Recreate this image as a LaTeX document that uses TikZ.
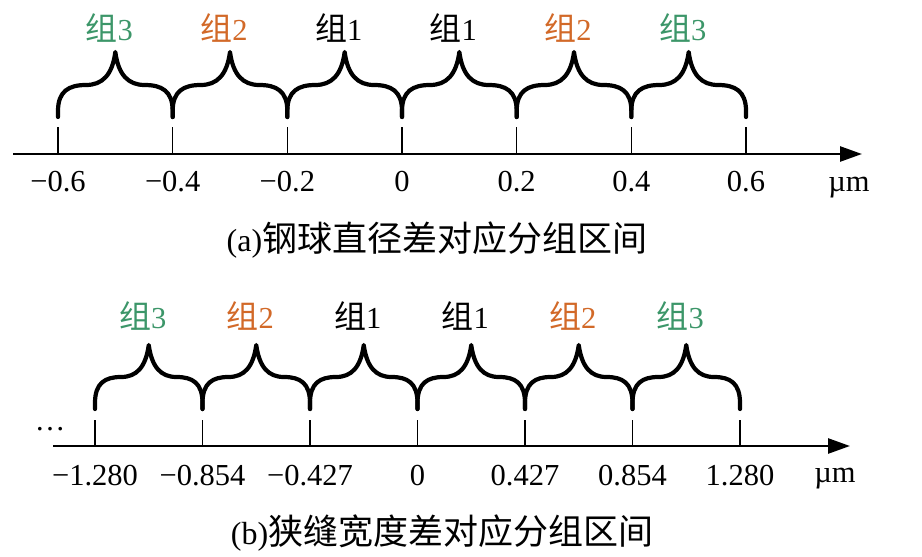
\documentclass[tikz,border=0pt]{standalone}
\usepackage{fontspec}
\setmainfont{Liberation Serif}
\newfontfamily\cjk{Noto Sans CJK SC}
\usetikzlibrary{arrows.meta}
\definecolor{gthree}{RGB}{60,150,105}
\definecolor{gtwo}{RGB}{210,105,40}
\begin{document}
\begin{tikzpicture}[x=1pt,y=-1pt,
  axisline/.style={line width=2.6pt,-{Triangle[length=22pt,width=15pt]}},
  tickline/.style={line width=1.3pt},
  bracepath/.style={line width=4.2pt,line cap=round,line join=round},
  lab/.style={font=\fontsize{30.5}{33}\selectfont, anchor=base, inner sep=0pt},
  capt/.style={font=\fontsize{32}{36}\selectfont, anchor=base, inner sep=0pt}]
\useasboundingbox (0,0) rectangle (922,557);

% ---------------- panel (a) ----------------
\coordinate (axa0) at (13,154);
\coordinate (axa1) at (862,154);
\draw[axisline] (axa0) -- (axa1);
\foreach \i/\t in {0/−0.6,1/−0.4,2/−0.2,3/0,4/0.2,5/0.4,6/0.6}{
  \pgfmathsetmacro\xx{58+114.67*\i}
  \coordinate (tat\i) at (\xx,127);
  \coordinate (tab\i) at (\xx,154);
  \draw[tickline] (tat\i) -- (tab\i);
  \node[lab] (tla\i) at (\xx,191) {\t};
}
\node[lab] (unita) at (849,191) {µm};
\foreach \i in {0,...,5}{
  \pgfmathsetmacro\xa{58+114.67*\i}
  \pgfmathsetmacro\xb{\xa+114.67}
  \pgfmathsetmacro\xm{\xa+57.33}
  \draw[bracepath] (\xa,117) -- (\xa,111) .. controls (\xa,91) and (\xa+11,85) .. (\xa+28,85)
    .. controls (\xm-13,85) and (\xm-3,75) .. (\xm,52)
    .. controls (\xm+3,75) and (\xm+13,85) .. (\xb-28,85)
    .. controls (\xb-11,85) and (\xb,91) .. (\xb,111) -- (\xb,117);
}
\foreach \i/\c/\n in {0/gthree/3,1/gtwo/2,2/black/1,3/black/1,4/gtwo/2,5/gthree/3}{
  \pgfmathsetmacro\xm{58+114.67*\i+57.33-6}
  \node[lab,text=\c] (ga\i) at (\xm,40) {{\cjk\fontsize{32}{34}\selectfont 组}\n};
}
\node[capt] (capa) at (437,251) {(a){\cjk\fontsize{35}{38}\selectfont 钢球直径差对应分组区间}};

% ---------------- panel (b) ----------------
\coordinate (axb0) at (53,446);
\coordinate (axb1) at (850,446);
\draw[axisline] (axb0) -- (axb1);
\node[lab] (dots) at (50,430) {…};
\foreach \i/\t in {0/−1.280,1/−0.854,2/−0.427,3/0,4/0.427,5/0.854,6/1.280}{
  \pgfmathsetmacro\xx{95+107.5*\i}
  \coordinate (tbt\i) at (\xx,420);
  \coordinate (tbb\i) at (\xx,446);
  \draw[tickline] (tbt\i) -- (tbb\i);
  \node[lab] (tlb\i) at (\xx,485) {\t};
}
\node[lab] (unitb) at (835,482) {µm};
\foreach \i in {0,...,5}{
  \pgfmathsetmacro\xa{95+107.5*\i}
  \pgfmathsetmacro\xb{\xa+107.5}
  \pgfmathsetmacro\xm{\xa+53.75}
  \draw[bracepath] (\xa,409) -- (\xa,403) .. controls (\xa,383) and (\xa+10,377) .. (\xa+26,377)
    .. controls (\xm-12,377) and (\xm-3,367) .. (\xm,345)
    .. controls (\xm+3,367) and (\xm+12,377) .. (\xb-26,377)
    .. controls (\xb-10,377) and (\xb,383) .. (\xb,403) -- (\xb,409);
}
\foreach \i/\c/\n in {0/gthree/3,1/gtwo/2,2/black/1,3/black/1,4/gtwo/2,5/gthree/3}{
  \pgfmathsetmacro\xm{95+107.5*\i+53.75-6}
  \node[lab,text=\c] (gb\i) at (\xm,328) {{\cjk\fontsize{32}{34}\selectfont 组}\n};
}
\node[capt] (capb) at (442,544) {(b){\cjk\fontsize{35}{38}\selectfont 狭缝宽度差对应分组区间}};
\end{tikzpicture}
\end{document}
